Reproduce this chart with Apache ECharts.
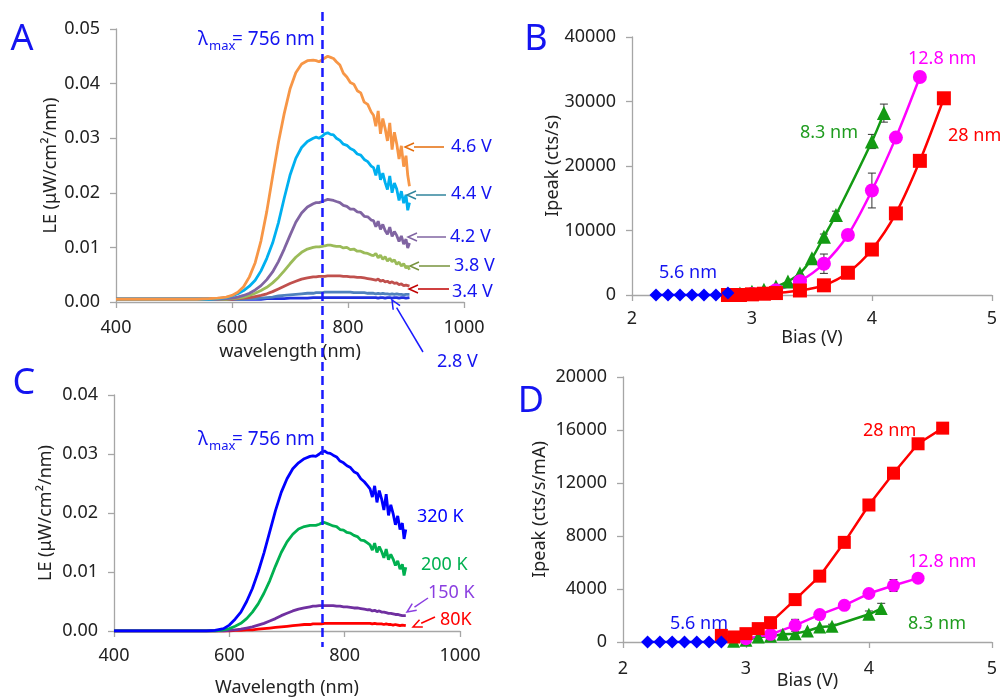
<!DOCTYPE html>
<html><head><meta charset="utf-8">
<script src="https://cdn.jsdelivr.net/npm/echarts@6/dist/echarts.min.js"></script>
<style>html,body{margin:0;padding:0;background:#fff}#c{width:1000px;height:698px}</style>
</head><body><div id="c"></div>
<script>
// ---------- Panel A / C : spectra (wavelength in nm, LE in uW/cm2/nm) ----------
const wavelength = [400,450,500,540,560,575,590,600,610,620,630,640,650,660,670,680,690,700,710,720,730,740,745,750,756,760,765,770,775,780,786,792,798,804,810,816,822,828,834,840,844,848,852,856,860,864,868,872,876,880,884,888,892,896,900,903,906];

const le_4_6V = [0.0005,0.0005,0.0005,0.0005,0.0006,0.0007,0.0009,
 0.0012,0.0018,0.0028,0.0046,0.0072,0.0112,0.0166,0.0230,0.0292,0.0345,0.0390,0.0420,0.0436,0.0442,0.0443,
 0.0442,0.0440,0.0444,0.0447,0.0450,0.0448,0.0446,0.0440,
 0.0434,0.0419,0.0412,0.0402,0.0399,0.0387,0.0383,0.0366,0.0362,0.0348,
 0.0342,0.0322,0.0350,0.0308,0.0336,0.0318,0.0295,0.0328,0.0279,0.0311,0.0290,0.0262,0.0286,0.0248,0.0268,
 0.0232,0.0212];
const le_4_4V = [0.0005,0.0005,0.0005,0.0005,0.0005,0.0006,0.0008,
 0.0011,0.0015,0.0021,0.0029,0.0040,0.0057,0.0080,0.0108,0.0145,0.0190,0.0232,0.0263,0.0283,0.0294,0.0300,
 0.0302,0.0300,0.0304,0.0308,0.0310,0.0307,0.0306,0.0300,
 0.0296,0.0289,0.0287,0.0281,0.0278,0.0271,0.0269,0.0261,0.0257,0.0249,
 0.0246,0.0232,0.0251,0.0224,0.0236,0.0219,0.0206,0.0231,0.0200,0.0218,0.0207,0.0186,0.0203,0.0181,0.0196,
 0.0168,0.0182];
const le_4_2V = [0.0005,0.0005,0.0005,0.0005,0.0005,0.0005,0.0006,
 0.0007,0.0009,0.0012,0.0016,0.0022,0.0030,0.0041,0.0055,0.0074,0.0097,0.0122,0.0146,0.0163,0.0174,0.0180,
 0.0182,0.0182,0.0184,0.0186,0.0188,0.0187,0.0186,0.0184,
 0.0182,0.0177,0.0175,0.0170,0.0170,0.0165,0.0164,0.0157,0.0156,0.0150,
 0.0149,0.0138,0.0148,0.0133,0.0142,0.0131,0.0124,0.0137,0.0120,0.0129,0.0122,0.0111,0.0121,0.0106,0.0115,
 0.0099,0.0108];
const le_3_8V = [0.0005,0.0005,0.0005,0.0005,0.0005,0.0005,0.0005,
 0.0006,0.0007,0.0009,0.0012,0.0016,0.0021,0.0027,0.0035,0.0045,0.0057,0.0070,0.0082,0.0091,0.0097,0.0100,
 0.0101,0.0101,0.0102,0.0103,0.0104,0.0104,0.0103,0.0102,
 0.0102,0.0099,0.0100,0.0096,0.0097,0.0093,0.0093,0.0090,0.0089,0.0086,
 0.0085,0.0089,0.0081,0.0086,0.0078,0.0083,0.0075,0.0080,0.0074,0.0077,0.0069,0.0073,0.0066,0.0070,0.0062,
 0.0066,0.0059];
const le_3_4V = [0.0005,0.0005,0.0005,0.0005,0.0005,0.0005,0.0005,
 0.0005,0.0006,0.0007,0.0008,0.0010,0.0012,0.0015,0.0019,0.0024,0.0029,0.0034,0.0038,0.0042,0.0044,0.0046,
 0.0046,0.0047,0.0047,0.0047,0.0048,0.0048,0.0048,0.0048,
 0.0048,0.0047,0.0047,0.0046,0.0046,0.0045,0.0045,0.0044,0.0043,0.0042,
 0.0041,0.0040,0.0042,0.0038,0.0040,0.0037,0.0038,0.0035,0.0037,0.0034,0.0035,0.0032,0.0033,0.0030,0.0031,
 0.0028,0.0029];
const le_3_0V = [0.0005,0.0005,0.0005,0.0005,0.0005,0.0005,0.0005,
 0.0005,0.0005,0.0005,0.0006,0.0006,0.0007,0.0008,0.0009,0.0011,0.0012,0.0013,0.0014,0.0015,0.0016,0.0016,
 0.0017,0.0017,0.0017,0.0018,0.0018,0.0018,0.0018,0.0018,
 0.0018,0.0018,0.0018,0.0018,0.0017,0.0017,0.0017,0.0017,0.0016,0.0016,
 0.0016,0.0015,0.0016,0.0015,0.0016,0.0015,0.0015,0.0014,0.0015,0.0014,0.0015,0.0014,0.0014,0.0013,0.0014,
 0.0013,0.0014];
const le_2_8V = [0.0005,0.0005,0.0005,0.0005,0.0005,0.0005,0.0005,
 0.0005,0.0005,0.0005,0.0005,0.0005,0.0005,0.0006,0.0006,0.0006,0.0006,0.0007,0.0007,0.0007,0.0007,0.0008,
 0.0008,0.0008,0.0008,0.0008,0.0008,0.0008,0.0008,0.0008,
 0.0008,0.0008,0.0008,0.0008,0.0008,0.0008,0.0008,0.0008,0.0008,0.0008,
 0.0008,0.0008,0.0007,0.0008,0.0008,0.0007,0.0008,0.0008,0.0007,0.0008,0.0008,0.0007,0.0008,0.0008,0.0007,
 0.0008,0.0008];

const le_320K = [0,0,0,0,0,0.0001,0.0004,
 0.0010,0.0020,0.0032,0.0050,0.0072,0.0100,0.0132,0.0168,0.0204,0.0235,0.0258,0.0275,0.0285,0.0292,0.0296,
 0.0297,0.0296,0.0300,0.0303,0.0305,0.0302,0.0301,0.0298,
 0.0295,0.0288,0.0285,0.0280,0.0277,0.0270,0.0267,0.0258,0.0253,0.0246,
 0.0241,0.0227,0.0246,0.0218,0.0238,0.0224,0.0205,0.0232,0.0196,0.0214,0.0199,0.0180,0.0195,0.0172,0.0183,
 0.0156,0.0172];
const le_200K = [0,0,0,0,0,0,0.0002,
 0.0004,0.0008,0.0013,0.0021,0.0032,0.0046,0.0064,0.0085,0.0110,0.0133,0.0151,0.0164,0.0173,0.0177,0.0179,
 0.0179,0.0179,0.0181,0.0183,0.0184,0.0182,0.0180,0.0178,
 0.0177,0.0172,0.0171,0.0167,0.0166,0.0162,0.0160,0.0154,0.0153,0.0149,
 0.0146,0.0137,0.0149,0.0133,0.0143,0.0135,0.0124,0.0139,0.0121,0.0130,0.0122,0.0111,0.0119,0.0105,0.0113,
 0.0094,0.0108];
const le_150K = [0,0,0,0,0,0,0,
 0.0001,0.0002,0.0003,0.0005,0.0007,0.0010,0.0013,0.0017,0.0021,0.0026,0.0030,0.0034,0.0037,0.0039,0.0041,
 0.0042,0.0042,0.0043,0.0043,0.0043,0.0043,0.0043,0.0043,
 0.0042,0.0042,0.0041,0.0041,0.0040,0.0039,0.0039,0.0038,0.0037,0.0036,
 0.0036,0.0034,0.0035,0.0033,0.0034,0.0032,0.0032,0.0031,0.0030,0.0030,0.0029,0.0028,0.0028,0.0027,0.0026,
 0.0025,0.0026];
const le_80K = [0,0,0,0,0,0,0,
 0,0.0001,0.0001,0.0002,0.0002,0.0003,0.0004,0.0005,0.0006,0.0007,0.0008,0.0009,0.0010,0.0011,0.0011,
 0.0012,0.0012,0.0012,0.0012,0.0013,0.0013,0.0013,0.0013,
 0.0013,0.0013,0.0013,0.0013,0.0013,0.0013,0.0013,0.0013,0.0013,0.0013,
 0.0013,0.0012,0.0013,0.0012,0.0012,0.0012,0.0011,0.0012,0.0011,0.0011,0.0010,0.0011,0.0010,0.0009,0.0010,
 0.0008,0.0009];

const lambdaMax = 756;

// ---------- Panel B / D : Ipeak vs bias ----------
const bias_5_6 = [2.2,2.3,2.4,2.5,2.6,2.7,2.8];
const bias_28  = [2.8,2.9,3.0,3.1,3.2,3.4,3.6,3.8,4.0,4.2,4.4,4.6];
const bias_12_8 = [3.0,3.2,3.4,3.6,3.8,4.0,4.2,4.4];
const bias_8_3 = [2.9,3.0,3.1,3.2,3.3,3.4,3.5,3.6,3.7,4.0,4.1];

const ipeakB_5_6 = [0,0,0,0,0,0,300];
const ipeakB_28  = [0,0,100,200,300,700,1500,3450,7050,12650,20800,30500];
const ipeakB_12_8 = [150,750,2150,4850,9300,16200,24400,33800];
const errB_12_8  = [0,0,0,1500,0,2700,600,0];
const ipeakB_8_3 = [250,500,800,1300,2100,3350,5700,9050,12400,23800,28200];
const errB_8_3   = [0,0,0,0,0,0,0,400,600,1100,1400];

const ipeakD_5_6 = [0,0,0,0,0,0,0];
const ipeakD_28  = [500,380,630,1010,1460,3200,4970,7520,10340,12740,14960,16140];
const ipeakD_12_8 = [250,580,1260,2070,2770,3660,4260,4820];
const errD_12_8  = [0,0,450,0,0,250,450,0];
const ipeakD_8_3 = [50,130,380,430,580,630,830,1130,1190,2090,2520];
const errD_8_3   = [0,0,0,0,0,0,0,0,150,250,400];

// ---------- helpers ----------
const FONT = 'Noto Sans';
const AX = '#a6a6a6';
const BLUE = '#1414f0', RED = '#ff0000', MAG = '#ff00ff', GRN = '#139a13';
const zip = (xs, ys) => xs.map((x, i) => [x, ys[i]]);

function spec(name, ys, color, idx) {
  return {name, type: 'line', xAxisIndex: idx, yAxisIndex: idx, data: zip(wavelength, ys),
    symbol: 'none', lineStyle: {color, width: 2.8}, itemStyle: {color}, silent: true, z: 3};
}
function ipk(name, xs, ys, color, sym, size, idx, smooth) {
  return {name, type: 'line', xAxisIndex: idx, yAxisIndex: idx, data: zip(xs, ys),
    symbol: sym, symbolSize: size, smooth: smooth ? 0.3 : false,
    lineStyle: {color, width: 2.5}, itemStyle: {color, opacity: 1}, z: 4};
}
function errBars(xs, ys, es, idx) {
  const data = xs.map((x, i) => [x, ys[i], es[i]]).filter(d => d[2] > 0);
  return {type: 'custom', xAxisIndex: idx, yAxisIndex: idx, data, z: 3, silent: true,
    renderItem(params, api) {
      const x = api.value(0), y = api.value(1), e = api.value(2);
      const t = api.coord([x, y + e]), b = api.coord([x, y - e]); const w = 4;
      const st = {stroke: '#333', lineWidth: 1};
      return {type: 'group', children: [
        {type: 'line', shape: {x1: t[0], y1: t[1], x2: b[0], y2: b[1]}, style: st},
        {type: 'line', shape: {x1: t[0] - w, y1: t[1], x2: t[0] + w, y2: t[1]}, style: st},
        {type: 'line', shape: {x1: b[0] - w, y1: b[1], x2: b[0] + w, y2: b[1]}, style: st}]};
    }};
}
function xAx(idx, min, max, interval, name, gap, margin) {
  return {type: 'value', gridIndex: idx, min, max, interval, name, nameLocation: 'middle', nameGap: gap,
    nameMoveOverlap: false,
    nameTextStyle: {color: '#222', fontSize: 18, fontFamily: FONT},
    axisLine: {show: true, onZero: false, lineStyle: {color: AX, width: 1.3}},
    axisTick: {show: true, length: 6, lineStyle: {color: AX, width: 1.3}},
    axisLabel: {color: '#222', fontSize: 18, fontFamily: FONT, margin, formatter: v => String(v)},
    splitLine: {show: false}};
}
function yAx(idx, min, max, interval, name, gap, fmt) {
  return {type: 'value', gridIndex: idx, min, max, interval, name, nameLocation: 'middle', nameGap: gap,
    nameMoveOverlap: false,
    nameTextStyle: {color: '#222', fontSize: 18, fontFamily: FONT},
    axisLine: {show: true, lineStyle: {color: AX, width: 1.3}},
    axisTick: {show: true, length: 6, lineStyle: {color: AX, width: 1.3}},
    axisLabel: {color: '#222', fontSize: 18, fontFamily: FONT, margin: 16, formatter: fmt},
    splitLine: {show: false}};
}

const chart = echarts.init(document.getElementById('c'), null, {renderer: 'canvas'});
const option = {
  animation: false,
  backgroundColor: '#fff',
  grid: [
    {left: 116, top: 29, width: 348, height: 273},
    {left: 632, top: 37, width: 360, height: 258},
    {left: 114, top: 395, width: 346, height: 239},
    {left: 623, top: 377, width: 370, height: 265}
  ],
  xAxis: [
    xAx(0, 400, 1000, 200, 'wavelength (nm)', 41, 17),
    xAx(1, 2, 5, 1, 'Bias (V)', 34, 15),
    xAx(2, 400, 1000, 200, 'Wavelength (nm)', 48, 16),
    xAx(3, 2, 5, 1, 'Bias (V)', 30, 18)
  ],
  yAxis: [
    yAx(0, 0, 0.05, 0.01, 'LE (μW/cm²/nm)', 56, v => v.toFixed(2)),
    yAx(1, 0, 40000, 10000, 'Ipeak (cts/s)', 70, v => String(v)),
    yAx(2, 0, 0.04, 0.01, 'LE (μW/cm²/nm)', 59, v => v.toFixed(2)),
    yAx(3, 0, 20000, 4000, 'Ipeak (cts/s/mA)', 74, v => String(v))
  ],
  series: [
    spec('2.8 V', le_2_8V, '#1f2fe0', 0),
    spec('3.0 V', le_3_0V, '#4f81bd', 0),
    spec('3.4 V', le_3_4V, '#c0504d', 0),
    spec('3.8 V', le_3_8V, '#9bbb59', 0),
    spec('4.2 V', le_4_2V, '#8064a2', 0),
    spec('4.4 V', le_4_4V, '#00b0f0', 0),
    spec('4.6 V', le_4_6V, '#f79646', 0),

    spec('80K', le_80K, '#ff0000', 2),
    spec('150 K', le_150K, '#7030a0', 2),
    spec('200 K', le_200K, '#00b050', 2),
    spec('320 K', le_320K, '#0000ff', 2),

    errBars(bias_8_3, ipeakB_8_3, errB_8_3, 1),
    errBars(bias_12_8, ipeakB_12_8, errB_12_8, 1),
    ipk('8.3 nm', bias_8_3, ipeakB_8_3, GRN, 'triangle', 14, 1, true),
    ipk('12.8 nm', bias_12_8, ipeakB_12_8, MAG, 'circle', 14, 1, true),
    ipk('28 nm', bias_28, ipeakB_28, RED, 'rect', 14, 1, true),
    ipk('5.6 nm', bias_5_6, ipeakB_5_6, '#0000ff', 'diamond', 13, 1, true),

    errBars(bias_8_3, ipeakD_8_3, errD_8_3, 3),
    errBars(bias_12_8, ipeakD_12_8, errD_12_8, 3),
    ipk('8.3 nm', bias_8_3, ipeakD_8_3, GRN, 'triangle', 13, 3, false),
    ipk('12.8 nm', bias_12_8, ipeakD_12_8, MAG, 'circle', 13, 3, false),
    ipk('28 nm', bias_28, ipeakD_28, RED, 'rect', 13, 3, false),
    ipk('5.6 nm', bias_5_6, ipeakD_5_6, '#0000ff', 'diamond', 13, 3, false)
  ]
};
chart.setOption(option);

// ---------- annotations ----------
function txt(text, x, y, color, size, align) {
  return {type: 'text', x, y, z: 20, style: {text, fill: color, font: size + 'px "' + FONT + '"',
    textAlign: align || 'left', textVerticalAlign: 'middle'}};
}
function arrow(x1, y1, x2, y2, color) {
  const a = Math.atan2(y2 - y1, x2 - x1), L = 9, W = 4;
  const bx = x2 - L * Math.cos(a), by = y2 - L * Math.sin(a);
  const px = -Math.sin(a) * W, py = Math.cos(a) * W;
  return [
    {type: 'line', z: 20, shape: {x1, y1, x2: bx, y2: by}, style: {stroke: color, lineWidth: 1.5}},
    {type: 'polyline', z: 20, shape: {points: [[bx + px, by + py], [x2, y2], [bx - px, by - py]]},
      style: {stroke: color, lineWidth: 1.5, fill: null}}
  ];
}
function lambdaLabel(x, y) {
  return [txt('λ', x, y, BLUE, 19), txt('max', x + 11, y + 6, BLUE, 13), txt('= 756 nm', x + 34, y, BLUE, 19)];
}

const dashX = chart.convertToPixel({xAxisIndex: 0}, lambdaMax);
const g = [
  {type: 'line', z: 15, shape: {x1: dashX, y1: 12, x2: dashX, y2: 647},
    style: {stroke: '#1a1aff', lineWidth: 2.5, lineDash: [9, 5]}},
  txt('A', 22, 40, BLUE, 36, 'center'), txt('B', 536, 40, BLUE, 36, 'center'),
  txt('C', 24, 384, BLUE, 36, 'center'), txt('D', 531, 402, BLUE, 36, 'center'),
  ...lambdaLabel(198, 40), ...lambdaLabel(198, 440),
  txt('4.6 V', 451, 147, BLUE, 18), ...arrow(444, 147, 405, 147, '#e46c0a'),
  txt('4.4 V', 451, 194, BLUE, 18), ...arrow(446, 195, 407, 195, '#31859c'),
  txt('4.2 V', 450, 237, BLUE, 18), ...arrow(446, 237, 408, 237, '#8064a2'),
  txt('3.8 V', 454, 266, BLUE, 18), ...arrow(450, 266, 410, 266, '#77933c'),
  txt('3.4 V', 452, 292, BLUE, 18), ...arrow(449, 289, 409, 289, '#c00000'),
  txt('2.8 V', 437, 362, BLUE, 18), ...arrow(423, 352, 392, 300, '#1a1aff'),
  txt('320 K', 417, 517, '#0000ff', 18), txt('200 K', 421, 565, '#00b050', 18),
  txt('150 K', 428, 593, '#8a3ee0', 18), ...arrow(428, 598, 407, 612, '#8a3ee0'),
  txt('80K', 440, 620, '#ff0000', 18), ...arrow(435, 617, 413, 627, '#ff0000'),
  txt('12.8 nm', 908, 59, MAG, 18), txt('8.3 nm', 800, 133, '#1f9c1f', 18),
  txt('28 nm', 948, 136, RED, 18), txt('5.6 nm', 659, 273, BLUE, 18),
  txt('28 nm', 863, 431, RED, 18), txt('12.8 nm', 908, 562, MAG, 18),
  txt('8.3 nm', 908, 624, '#1f9c1f', 18), txt('5.6 nm', 670, 624, BLUE, 18)
];
chart.setOption({graphic: g});
</script>
</body></html>
